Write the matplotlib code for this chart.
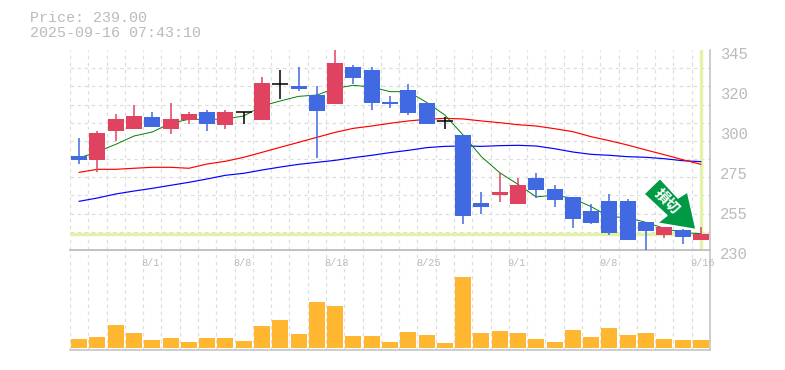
import matplotlib
matplotlib.use("Agg")
import matplotlib.pyplot as plt
from matplotlib.patches import Polygon
from matplotlib.transforms import Affine2D, ScaledTranslation

# ---------- data ----------
dates = ["8/1", "8/8", "8/18", "8/25", "9/1", "9/8", "9/16"]
date_idx = [4, 9, 14, 19, 24, 29, 34]
price_ticks = [345, 322, 299, 276, 253, 230]
price_labels = ["345", "320", "300", "275", "255", "230"]
last_price = 239.0

opens = [284.05, 281.75, 298.4, 299.6, 306.5, 299.6, 304.75, 309.35, 301.9, 309.35, 304.75, 325.5,
         324.3, 319.1, 313.9, 335.2, 333.5, 315.3, 322.0, 314.5, 304.2, 296.1, 257.0, 261.6,
         256.45, 271.4, 265.1, 260.5, 252.4, 258.2, 258.2, 246.1, 238.6, 241.5, 235.75]
closes = [281.75, 297.3, 305.3, 307.05, 300.7, 305.3, 308.2, 302.45, 309.35, 309.35, 326.0, 325.5,
          322.6, 309.9, 337.5, 328.9, 314.5, 314.15, 308.8, 302.45, 304.2, 249.55, 254.7, 263.35,
          267.4, 264.5, 258.75, 247.8, 245.5, 239.8, 235.75, 240.9, 243.2, 237.5, 239.2]
highs = [294.4, 298.4, 308.2, 313.4, 309.35, 314.5, 309.35, 310.5, 310.5, 309.35, 329.5, 333.5,
         335.2, 324.3, 345.0, 336.4, 335.2, 318.55, 325.5, 314.5, 306.5, 296.1, 263.35, 274.3,
         271.4, 274.3, 267.4, 260.5, 256.45, 262.2, 259.3, 246.1, 243.2, 242.1, 243.2]
lows = [279.45, 274.85, 292.7, 299.6, 300.7, 296.7, 302.45, 298.4, 299.6, 302.45, 304.75, 316.8,
        321.4, 282.9, 313.9, 325.5, 310.5, 311.65, 307.6, 302.45, 299.6, 244.95, 250.7, 257.6,
        256.45, 259.9, 254.7, 242.65, 244.95, 238.6, 235.75, 229.4, 236.9, 233.45, 235.75]
ma_short = [282.9, 286.5, 290.75, 295.55, 297.85, 302.85, 305.15, 305.15, 305.35, 307.05, 312.8, 315.7,
            318.35, 319.1, 322.95, 324.7, 323.7, 321.05, 321.05, 314.9, 307.6, 296.1, 283.65, 274.45,
            267.75, 260.5, 261.6, 259.7, 254.9, 249.2, 248.6, 245.9, 242.45, 239.95, 239.4]
ma_mid = [274.65, 276.4, 276.4, 277.0, 277.55, 277.55, 277.0, 279.45, 281.0, 283.3, 286.15, 289.05,
          291.9, 294.8, 297.65, 299.95, 301.3, 302.85, 304.2, 305.15, 305.7, 305.35, 304.2, 303.2,
          302.05, 301.3, 299.75, 298.05, 295.15, 292.85, 290.35, 287.5, 284.8, 281.95, 279.25]
ma_long = [258.0, 259.9, 262.2, 263.9, 265.45, 267.2, 268.9, 270.85, 272.95, 274.1, 276.0, 277.7,
           279.25, 280.4, 281.55, 283.1, 284.45, 286.0, 287.3, 288.85, 289.6, 289.8, 289.6, 290.0,
           290.2, 289.8, 288.25, 286.35, 285.0, 284.45, 283.65, 283.3, 282.5, 281.35, 280.8]
volumes = [9, 11, 23, 15, 8, 10, 6, 10, 10, 7, 22, 28, 14, 46, 42, 12, 12, 6,
           16, 13, 5, 71, 15, 17, 15, 9, 6, 18, 11, 20, 13, 15, 9, 8, 8]

# ---------- styles ----------
RED, BLUE, ORANGE = "#e0435f", "#4169e1", "#ffb732"
GRID, AXIS, TEXT, LIME = "#dddddd", "#c0c0c0", "#bbbbbb", "#e2f3a8"
MONO = "Liberation Mono"
W, H = 785, 370

fig = plt.figure(figsize=(W / 100, H / 100), dpi=100, facecolor="white")
ax = fig.add_axes([70 / W, (H - 250) / H, 640 / W, 200 / H])
vol = fig.add_axes([70 / W, (H - 350) / H, 640 / W, 100 / H])
ax.set_zorder(2)
ax.patch.set_alpha(0)

n = len(opens)
xs = list(range(n))
edges = [i - 0.5 for i in range(n + 1)]
body_w = 16 / (640 / n)

for a in (ax, vol):
    a.set_xlim(-0.5, n - 0.5)
    a.set_xticks(edges, minor=True)
    a.grid(which="minor", axis="x", color=GRID, lw=0.85, ls=(0, (3, 3)))
    a.set_axisbelow(True)
    a.tick_params(which="both", length=0)
    for s in ("left", "top"):
        a.spines[s].set_visible(False)
    for s in ("right", "bottom"):
        a.spines[s].set_color(AXIS)
        a.spines[s].set_linewidth(1.1)

# price panel
ax.set_ylim(230, 345)
grid_y = [230 + 115 * i / 11 for i in range(12)]
ax.set_yticks(grid_y, minor=True)
ax.grid(which="minor", axis="y", color=GRID, lw=0.85, ls=(0, (3, 3)))
for gl in ax.get_xgridlines() + ax.get_ygridlines():
    gl.set_clip_on(False)

ax.axhline(last_price, color=LIME, lw=2.4, zorder=1.5)
ax.axvline(n - 1, ymax=0.995, color=LIME, lw=2.4, zorder=1.5)

ax.plot(xs, ma_long, color="#0000ff", lw=0.85, zorder=2)
ax.plot(xs, ma_mid, color="#ff0000", lw=0.85, zorder=2.1)
ax.plot(xs, ma_short, color="#008000", lw=0.7, zorder=2.2)

# stop-loss arrow annotation, placed in pixel space
px = Affine2D().scale(1 / W, -1 / H).translate(0, 1) + fig.transFigure
arrow_pts = [(660, 178.5), (644, 194), (667, 215.5), (657.5, 223), (696, 229.5), (687.5, 192), (678, 198)]
ax.add_patch(Polygon(arrow_pts, closed=True, transform=px, facecolor="#009944",
                     edgecolor="white", lw=1.0, zorder=2.5, clip_on=False))
ax.text(667, 200.5, "損切", transform=px, rotation=-45, rotation_mode="anchor",
        ha="center", va="center", color="white", fontsize=10.5, fontweight="bold",
        family="Noto Sans CJK JP", zorder=2.6)

for i in xs:
    o, c, h, l = opens[i], closes[i], highs[i], lows[i]
    col = "black" if o == c else (RED if c > o else BLUE)
    ax.vlines(i, l, h, color=col, lw=1.1, zorder=3)
    if o == c:
        ax.hlines(o, i - body_w / 2, i + body_w / 2, color=col, lw=1.1, zorder=3)
    else:
        ax.bar(i, abs(c - o), bottom=min(o, c), width=body_w, color=col, lw=0, zorder=3.1)

# axis labels
ax.yaxis.tick_right()
ax.set_yticks(price_ticks, price_labels)
ax.tick_params(axis="y", which="major", pad=7, labelcolor=TEXT, labelsize=11.2)
down3 = ScaledTranslation(0, -3 / 100, fig.dpi_scale_trans)
for lab in ax.get_yticklabels():
    lab.set_fontfamily(MONO)
    lab.set_transform(lab.get_transform() + down3)

ax.set_xticks(date_idx, dates)
ax.tick_params(axis="x", which="major", pad=6, labelcolor=TEXT, labelsize=7.4)
left10 = ScaledTranslation(-10.5 / 100, 0, fig.dpi_scale_trans)
for lab in ax.get_xticklabels():
    lab.set_fontfamily(MONO)
    lab.set_ha("left")
    lab.set_transform(lab.get_transform() + left10)

# volume panel
vol.set_ylim(-2, 98)
vol.bar(xs, volumes, width=body_w, color=ORANGE, lw=0, zorder=3)
vol.set_xticks([])
vol.set_yticks([])
vol.spines["top"].set_visible(True)
vol.spines["top"].set_color(AXIS)
vol.spines["top"].set_linewidth(1.1)

fig.text(30, 18, f"Price: {last_price:.2f}", transform=px, family=MONO, fontsize=10.8, color=TEXT, va="center")
fig.text(30, 33, "2025-09-16 07:43:10", transform=px, family=MONO, fontsize=10.8, color=TEXT, va="center")

fig.savefig("out.png", dpi=100)
